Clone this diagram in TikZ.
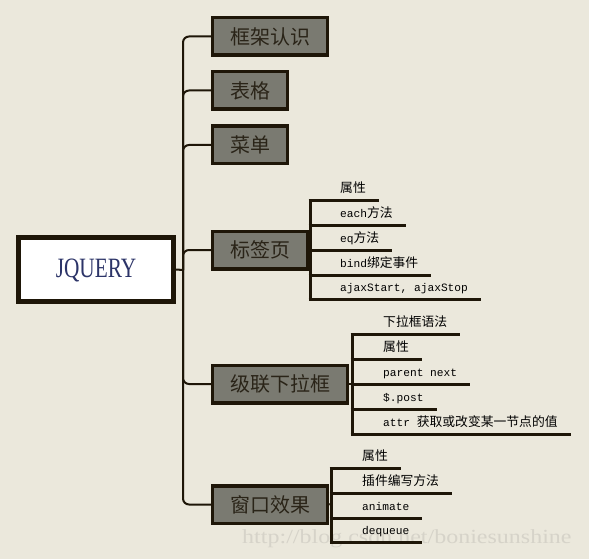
\documentclass[tikz,border=0pt]{standalone}
\usepackage{fontspec}
\setmainfont{Liberation Serif}
\setmonofont{Liberation Mono}
\newfontfamily\cjk{Noto Sans CJK SC}
\usetikzlibrary{calc}
\definecolor{bgc}{HTML}{EBE8DC}
\definecolor{linec}{HTML}{1E1608}
\definecolor{boxfill}{HTML}{7A7A71}
\definecolor{boxtext}{HTML}{2A2418}
\definecolor{roottext}{HTML}{2C3468}
\definecolor{wmark}{HTML}{D6D3C9}
\newcommand{\zhtxt}[1]{{\fontsize{12.8pt}{14pt}\cjk #1}}
\newcommand{\entxt}[1]{{\fontsize{11.2pt}{13pt}\ttfamily #1}}
\tikzset{
  topicbox/.style={draw=linec, line width=3.5pt, fill=boxfill, text=boxtext,
    font=\fontsize{20pt}{22pt}\cjk, minimum height=37.5pt, inner xsep=17.5pt,
    inner ysep=0pt, anchor=west},
  rootbox/.style={draw=linec, line width=5pt, fill=white, text=roottext,
    minimum width=155pt, minimum height=64pt},
  item/.style={anchor=south west, inner xsep=0pt, inner ysep=4pt,
    text height=9pt, text depth=3pt, text=black},
  trunk/.style={draw=linec, line width=2pt, rounded corners=6pt},
  sublink/.style={draw=linec, line width=2pt},
  subline/.style={draw=linec, line width=3pt},
}
\begin{document}
\begin{tikzpicture}[x=1pt,y=-1pt]
\fill[bgc] (0,0) rectangle (589,559);
\useasboundingbox (0,0) rectangle (589,559);

% root
\node[rootbox] (root) at (96,269.5) {};
\node[text=roottext, font=\fontsize{28pt}{30pt}\selectfont, xscale=0.76] (rootlbl) at (96,270) {JQUERY};

% topic boxes
\node[topicbox] (b1) at (210.75,36.5) {框架认识};
\node[topicbox] (b2) at (210.75,90.5) {表格};
\node[topicbox] (b3) at (210.75,145) {菜单};
\node[topicbox] (b4) at (210.75,250) {标签页};
\node[topicbox] (b5) at (210.75,384) {级联下拉框};
\node[topicbox] (b6) at (210.75,504.5) {窗口效果};

% main trunk
\coordinate (tk) at (183,270);
\draw[trunk] (b1.west) -| (tk) |- (b6.west);
\draw[trunk] (b2.west) -| (tk);
\draw[trunk] (b3.west) -| (tk);
\draw[trunk] (b4.west) -| (tk);
\draw[trunk] (b5.west) -| (tk);
\draw[sublink] (root.east) -- (tk);

% watermark (behind the items, as in the reference)
\node[text=wmark, font=\fontsize{20pt}{22pt}\selectfont, anchor=west, xscale=1.2] (wm) at (238,539) {http://blog.csdn.net/boniesunshine};

% sub items of b4
\coordinate (s4) at (310,250);
\node[item] (t41) at (340,200) {\zhtxt{属性}};
\node[item] (t42) at (340,225) {\entxt{each}\zhtxt{方法}};
\node[item] (t43) at (340,250) {\entxt{eq}\zhtxt{方法}};
\node[item] (t44) at (340,275) {\entxt{bind}\zhtxt{绑定事件}};
\node[item] (t45) at (340,299) {\entxt{ajaxStart, ajaxStop}};
\draw[sublink] (b4.east) -- (s4);
\draw[subline] (t41.south -| s4) -- (t45.south -| s4);
\foreach \n in {t41,t42,t43,t44,t45}
  \draw[subline] ([xshift=-1.5pt]\n.south -| s4) -- ($(\n.south east)+(13,0)$);

% sub items of b5
\coordinate (s5) at (352,384);
\node[item] (t51) at (383,334) {\zhtxt{下拉框语法}};
\node[item] (t52) at (383,359) {\zhtxt{属性}};
\node[item] (t53) at (383,384) {\entxt{parent next}};
\node[item] (t54) at (383,409) {\entxt{\$.post}};
\node[item] (t55) at (383,434) {\entxt{attr }\zhtxt{获取或改变某一节点的值}};
\draw[sublink] (b5.east) -- (s5);
\draw[subline] (t51.south -| s5) -- (t55.south -| s5);
\foreach \n in {t51,t52,t53,t54,t55}
  \draw[subline] ([xshift=-1.5pt]\n.south -| s5) -- ($(\n.south east)+(13,0)$);

% sub items of b6
\coordinate (s6) at (331,504);
\node[item] (t61) at (362,468) {\zhtxt{属性}};
\node[item] (t62) at (362,493) {\zhtxt{插件编写方法}};
\node[item] (t63) at (362,518) {\entxt{animate}};
\node[item] (t64) at (362,542) {\entxt{dequeue}};
\draw[sublink] (b6.east) -- (s6);
\draw[subline] (t61.south -| s6) -- (t64.south -| s6);
\foreach \n in {t61,t62,t63,t64}
  \draw[subline] ([xshift=-1.5pt]\n.south -| s6) -- ($(\n.south east)+(13,0)$);
\end{tikzpicture}
\end{document}
